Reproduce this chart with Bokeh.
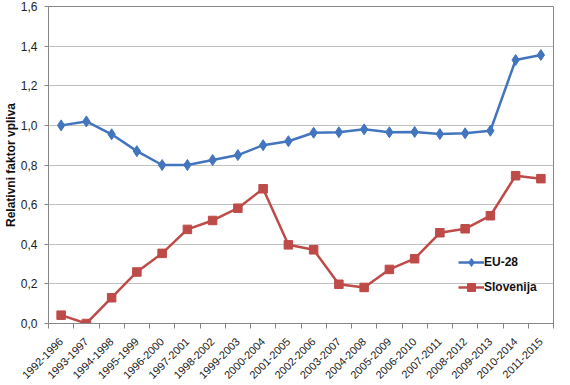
from bokeh.plotting import figure
from bokeh.models import FixedTicker, CustomJSTickFormatter, Range1d, Legend, LegendItem
from bokeh.embed import file_html
from bokeh.resources import INLINE

periods = ["1992-1996", "1993-1997", "1994-1998", "1995-1999", "1996-2000",
           "1997-2001", "1998-2002", "1999-2003", "2000-2004", "2001-2005",
           "2002-2006", "2003-2007", "2004-2008", "2005-2009", "2006-2010",
           "2007-2011", "2008-2012", "2009-2013", "2010-2014", "2011-2015"]
eu28 = [1.00, 1.02, 0.955, 0.87, 0.80, 0.80, 0.825, 0.85, 0.90, 0.92,
        0.963, 0.965, 0.98, 0.965, 0.967, 0.956, 0.96, 0.973, 1.33, 1.355]
slovenija = [0.042, 0.0, 0.13, 0.26, 0.354, 0.475, 0.52, 0.582, 0.68, 0.397,
             0.372, 0.198, 0.182, 0.273, 0.327, 0.458, 0.478, 0.544, 0.746, 0.731]
y_ticks = [0.0, 0.2, 0.4, 0.6, 0.8, 1.0, 1.2, 1.4, 1.6]
y_label = "Relativni faktor vpliva"
series_names = ["EU-28", "Slovenija"]

FONT = "Liberation Sans"
BLUE = "#4275BE"
RED = "#BE4B48"
AXIS = "#868686"
GRID = "#C0C0C0"

x = list(range(1, len(periods) + 1))

p = figure(width=570, height=385, output_backend="svg", toolbar_location=None,
           x_range=Range1d(0.5, len(periods) + 0.5), y_range=Range1d(0, 1.6),
           min_border_left=47, min_border_right=17, min_border_top=6, min_border_bottom=62)

p.background_fill_color = "white"
p.border_fill_color = "white"
p.outline_line_color = AXIS
p.outline_line_width = 1

# x axis
xt = FixedTicker(ticks=x, minor_ticks=[i + 0.5 for i in range(0, len(periods) + 1)])
p.xaxis.ticker = xt
p.xaxis.major_label_overrides = {i: lab for i, lab in zip(x, periods)}
p.xaxis.major_label_orientation = 0.785398
p.xaxis.major_tick_out = 0
p.xaxis.major_tick_in = 0
p.xaxis.minor_tick_out = 5
p.xaxis.minor_tick_in = 0
p.xaxis.minor_tick_line_color = AXIS
p.xaxis.axis_line_color = AXIS
p.xaxis.major_label_text_font = FONT
p.xaxis.major_label_text_font_size = "11px"
p.xaxis.major_label_text_color = "#222222"
p.xaxis.major_label_standoff = 11

# y axis
p.yaxis.ticker = FixedTicker(ticks=y_ticks)
p.yaxis.formatter = CustomJSTickFormatter(code="return tick.toFixed(1).replace('.', ',');")
p.yaxis.major_tick_out = 4
p.yaxis.major_tick_in = 0
p.yaxis.minor_tick_out = 0
p.yaxis.minor_tick_in = 0
p.yaxis.major_tick_line_color = AXIS
p.yaxis.axis_line_color = AXIS
p.yaxis.major_label_text_font = FONT
p.yaxis.major_label_text_font_size = "12px"
p.yaxis.major_label_text_color = "#222222"
p.yaxis.major_label_standoff = 7
p.yaxis.axis_label = y_label
p.yaxis.axis_label_text_font = FONT
p.yaxis.axis_label_text_font_size = "12px"
p.yaxis.axis_label_text_font_style = "bold"
p.yaxis.axis_label_text_color = "#111111"
p.yaxis.axis_label_standoff = 0

p.xgrid.visible = False
p.ygrid.ticker = FixedTicker(ticks=y_ticks)
p.ygrid.grid_line_color = GRID
p.ygrid.grid_line_width = 1

l1 = p.line(x, eu28, line_color=BLUE, line_width=2.5)
s1 = p.scatter(x, eu28, marker="diamond", size=11, fill_color=BLUE, line_color=BLUE)
l2 = p.line(x, slovenija, line_color=RED, line_width=2.5)
s2 = p.scatter(x, slovenija, marker="square", size=8.5, fill_color=RED, line_color=RED)

legend = Legend(items=[LegendItem(label=series_names[0], renderers=[l1, s1]),
                       LegendItem(label=series_names[1], renderers=[l2, s2])],
                location=(410, 26))
legend.background_fill_alpha = 0
legend.border_line_alpha = 0
legend.label_text_font = FONT
legend.label_text_font_size = "12px"
legend.label_text_font_style = "bold"
legend.label_text_color = "#111111"
legend.glyph_width = 26
legend.glyph_height = 20
legend.spacing = 5
legend.padding = 0
legend.margin = 0
legend.label_standoff = 0
p.add_layout(legend)

open("out.html", "w").write(file_html(p, INLINE))
